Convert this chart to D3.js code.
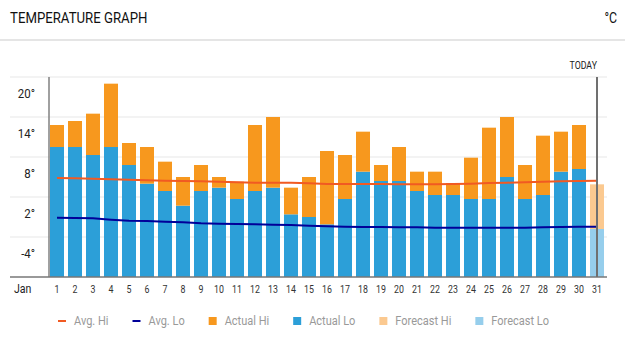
<!DOCTYPE html>
<html>
<head>
<meta charset="utf-8">
<script src="https://cdn.jsdelivr.net/npm/d3@7"></script>
<style>
  body { margin: 0; background: #fff; }
  svg text { font-family: "Roboto", sans-serif; }
</style>
</head>
<body>
<div id="canvas"></div>
<script>
var days = ['1','2','3','4','5','6','7','8','9','10','11','12','13','14','15','16',
    '17','18','19','20','21','22','23','24','25','26','27','28','29','30','31']
var yTicks = [20, 14, 8, 2, -4]

// actual readings, days 1-30
var actualHi = [12.8, 13.4, 14.5, 19.0, 10.1, 9.5, 7.3, 5.0, 6.8, 5.0, 4.3, 12.8, 14.0, 3.4, 5.0,
    8.9, 8.3, 11.8, 6.8, 9.5, 5.8, 5.8, 4.1, 7.9, 12.4, 14.0, 6.8, 11.2, 11.8, 12.8]
var actualLo = [9.5, 9.5, 8.3, 9.5, 6.8, 4.0, 2.9, 0.7, 2.9, 3.4, 1.7, 2.9, 3.4, -0.6, -1.0,
    -2.1, 1.7, 5.8, 4.4, 4.4, 2.9, 2.3, 2.3, 1.7, 1.7, 5.0, 1.7, 2.3, 5.8, 6.2]

// forecast for today (day 31)
var forecastDays = ['31']
var forecastHi = [3.9]
var forecastLo = [-2.8]

var avgHi = [4.85, 4.8, 4.75, 4.65, 4.6, 4.5, 4.45, 4.4, 4.35, 4.3, 4.2, 4.15, 4.15, 4.15, 4.05, 3.95,
    3.95, 3.95, 3.95, 3.9, 3.9, 3.9, 3.95, 4.0, 4.1, 4.15, 4.2, 4.3, 4.35, 4.4, 4.45]
var avgLo = [-1.1, -1.15, -1.2, -1.4, -1.55, -1.6, -1.7, -1.8, -1.95, -2.0, -2.05, -2.1, -2.15, -2.2, -2.3, -2.4,
    -2.45, -2.5, -2.5, -2.55, -2.55, -2.6, -2.6, -2.6, -2.6, -2.6, -2.6, -2.55, -2.5, -2.45, -2.45]

var legendItems = [
    { name: 'Avg. Hi', color: '#f15a22', kind: 'line' },
    { name: 'Avg. Lo', color: '#000099', kind: 'line' },
    { name: 'Actual Hi', color: '#f7981e', kind: 'box' },
    { name: 'Actual Lo', color: '#2c9fd8', kind: 'box' },
    { name: 'Forecast Hi', color: '#fbc990', kind: 'box' },
    { name: 'Forecast Lo', color: '#96ceec', kind: 'box' }
]

// squeeze text horizontally, the site font is a narrow one
var NARROW = 0.88
function narrow(sel) {
    sel.each(function () {
        var w = this.getComputedTextLength()
        this.__narrowWidth = w * NARROW
        d3.select(this)
            .attr('textLength', w * NARROW)
            .attr('lengthAdjust', 'spacingAndGlyphs')
    })
    return sel
}

function draw() {
    var width = 625
    var height = 337
    var svg = d3.select('#canvas')
        .append('svg')
        .attr('width', width)
        .attr('height', height)

    // header
    svg.append('text')
        .attr('x', 10)
        .attr('y', 23)
        .attr('font-size', 15)
        .attr('fill', '#111')
        .text('TEMPERATURE GRAPH')
        .call(narrow)
    svg.append('text')
        .attr('x', 617)
        .attr('y', 23)
        .attr('font-size', 14)
        .attr('fill', '#111')
        .attr('text-anchor', 'end')
        .text('°C')
        .call(narrow)
    svg.append('line')
        .attr('x1', 0)
        .attr('x2', width)
        .attr('y1', 40)
        .attr('y2', 40)
        .attr('stroke', '#ddd')
        .attr('stroke-width', 1.5)

    var x = d3.scaleBand()
        .domain(days)
        .range([48, 606])
        .paddingInner(0.222)
        .paddingOuter(0.111)
    var y = d3.scaleLinear()
        .domain([-10, 20])
        .range([277, 77])
    var cx = function (d) { return x(d) + x.bandwidth() / 2 }

    // grid
    var grid = svg.append('g').attr('id', 'grid')
    grid.selectAll('line')
        .data(yTicks)
        .join('line')
        .attr('x1', 10)
        .attr('x2', 607)
        .attr('y1', d => y(d))
        .attr('y2', d => y(d))
        .attr('stroke', '#efefef')
        .attr('stroke-width', 1.5)
    grid.selectAll('text')
        .data(yTicks)
        .join('text')
        .attr('x', 35)
        .attr('y', d => y(d) + 21)
        .attr('text-anchor', 'end')
        .attr('font-size', 13)
        .attr('fill', '#222')
        .text(d => d + '°')
        .call(narrow)

    // actual bars: lo column from the floor, hi stacked on top
    var actualDays = days.slice(0, actualHi.length)
    var bars = svg.append('g').attr('id', 'bars')
    bars.selectAll('rect.lo')
        .data(actualDays)
        .join('rect')
        .attr('class', 'lo')
        .attr('x', d => x(d))
        .attr('width', x.bandwidth())
        .attr('y', (d, i) => y(actualLo[i]))
        .attr('height', (d, i) => y.range()[0] - y(actualLo[i]))
        .attr('fill', '#2c9fd8')
    bars.selectAll('rect.hi')
        .data(actualDays)
        .join('rect')
        .attr('class', 'hi')
        .attr('x', d => x(d))
        .attr('width', x.bandwidth())
        .attr('y', (d, i) => y(actualHi[i]))
        .attr('height', (d, i) => y(actualLo[i]) - y(actualHi[i]))
        .attr('fill', '#f7981e')

    bars.selectAll('rect.flo')
        .data(forecastDays)
        .join('rect')
        .attr('class', 'flo')
        .attr('x', d => x(d))
        .attr('width', x.bandwidth())
        .attr('y', (d, i) => y(forecastLo[i]))
        .attr('height', (d, i) => y.range()[0] - y(forecastLo[i]))
        .attr('fill', '#96ceec')
    bars.selectAll('rect.fhi')
        .data(forecastDays)
        .join('rect')
        .attr('class', 'fhi')
        .attr('x', d => x(d))
        .attr('width', x.bandwidth())
        .attr('y', (d, i) => y(forecastHi[i]))
        .attr('height', (d, i) => y(forecastLo[i]) - y(forecastHi[i]))
        .attr('fill', '#fbc990')

    // average lines
    var line = d3.line()
        .x((d, i) => cx(days[i]))
        .y(d => y(d))
    svg.append('path')
        .attr('d', line(avgHi))
        .attr('fill', 'none')
        .attr('stroke', '#f15a22')
        .attr('stroke-width', 2)
    svg.append('path')
        .attr('d', line(avgLo))
        .attr('fill', 'none')
        .attr('stroke', '#000099')
        .attr('stroke-width', 2)

    // axes
    svg.append('line')
        .attr('x1', 49)
        .attr('x2', 49)
        .attr('y1', y(20))
        .attr('y2', y(-10))
        .attr('stroke', '#808080')
        .attr('stroke-width', 1.5)
    svg.append('line')
        .attr('x1', 10)
        .attr('x2', 607)
        .attr('y1', y(-10))
        .attr('y2', y(-10))
        .attr('stroke', '#777')
        .attr('stroke-width', 1.5)

    svg.append('text')
        .attr('x', 14)
        .attr('y', 293)
        .attr('font-size', 12)
        .attr('fill', '#222')
        .text('Jan')
        .call(narrow)
    svg.append('g')
        .selectAll('text')
        .data(days)
        .join('text')
        .attr('x', d => cx(d))
        .attr('y', 293)
        .attr('text-anchor', 'middle')
        .attr('font-size', 10)
        .attr('fill', '#333')
        .text(d => d)
        .call(narrow)

    // today marker
    var today = forecastDays[0]
    svg.append('line')
        .attr('x1', cx(today))
        .attr('x2', cx(today))
        .attr('y1', y(20))
        .attr('y2', y(-10))
        .attr('stroke', '#707070')
        .attr('stroke-width', 2)
    svg.append('text')
        .attr('x', cx(today))
        .attr('y', 69)
        .attr('text-anchor', 'end')
        .attr('font-size', 10)
        .attr('fill', '#222')
        .text('TODAY')
        .call(narrow)

    // legend
    var legend = svg.append('g').attr('id', 'legend')
    var lx = 58
    legendItems.forEach(function (item) {
        if (item.kind == 'line') {
            legend.append('rect')
                .attr('x', lx)
                .attr('y', 320)
                .attr('width', 8)
                .attr('height', 2)
                .attr('fill', item.color)
        } else {
            legend.append('rect')
                .attr('x', lx)
                .attr('y', 317)
                .attr('width', 8)
                .attr('height', 8)
                .attr('fill', item.color)
        }
        var t = legend.append('text')
            .attr('x', lx + 16)
            .attr('y', 325)
            .attr('font-size', 12.5)
            .attr('fill', '#999')
            .text(item.name)
            .call(narrow)
        lx += 16 + t.node().__narrowWidth + 24
    })
}

draw()
</script>
</body>
</html>
